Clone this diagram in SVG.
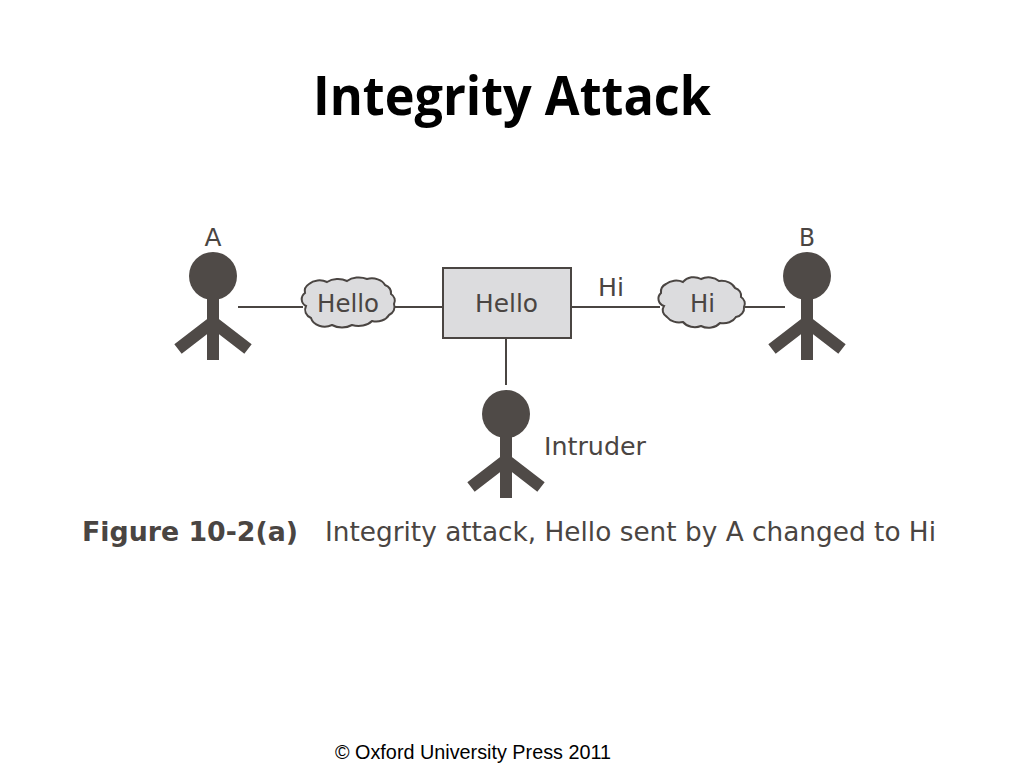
<svg xmlns="http://www.w3.org/2000/svg" width="1024" height="768" viewBox="0 0 1024 768">
<style>
.t{font-family:"DejaVu Sans","Liberation Sans",sans-serif;fill:#4a4542;font-size:25px}
.m{text-anchor:middle}
.w{stroke:#4a4542;fill:none;stroke-width:2}
.p{stroke:#4f4a47;stroke-width:12;fill:none}
.h{fill:#4f4a47}
.c{fill:#dcdcde;stroke:#4a4542;stroke-width:2}
</style>
<defs>
<g id="person">
<circle class="h" cx="0" cy="0" r="24"/>
<path class="p" d="M0 20V84M-35 73L0 46L35 73"/>
</g>
</defs>
<rect width="1024" height="768" fill="#fff"/>
<text id="title" x="512" y="115" text-anchor="middle" textLength="398" lengthAdjust="spacingAndGlyphs" style="font-family:'Open Sans','Noto Sans',sans-serif;font-weight:700;font-size:53px;fill:#000">Integrity Attack</text>
<g id="connectors">
<path class="w" d="M238 307H303M395 307H443M571 307H660M745 307H785M506 338V385"/>
</g>
<g id="node-a"><use href="#person" x="213" y="276"/><text class="t m" x="213" y="246" textLength="17" lengthAdjust="spacingAndGlyphs">A</text></g>
<g id="node-b"><use href="#person" x="807" y="276"/><text class="t m" x="807" y="246" textLength="16" lengthAdjust="spacingAndGlyphs">B</text></g>
<g id="node-intruder"><use href="#person" x="506" y="414"/><text class="t" x="544" y="455" textLength="102" lengthAdjust="spacingAndGlyphs">Intruder</text></g>
<g id="cloud-hello">
<path class="c" d="M305 293A11 9 0 0 1 309 284A14 11 0 0 1 327 282A16 11 0 0 1 347 281A16 11 0 0 1 367 279A14 10 0 0 1 385 285A10 9 0 0 1 391 294A9 8 0 0 1 394 304A10 9 0 0 1 389 315A14 11 0 0 1 372 321A16 11 0 0 1 352 325A16 11 0 0 1 332 325A14 11 0 0 1 311 318A10 9 0 0 1 306 306A9 8 0 0 1 305 293Z"/>
<text class="t" x="317" y="312" textLength="62" lengthAdjust="spacingAndGlyphs">Hello</text>
</g>
<g id="box">
<rect x="443" y="268" width="128" height="70" fill="#dcdcde" stroke="#4a4542" stroke-width="2"/>
<text class="t" x="475" y="312" textLength="63" lengthAdjust="spacingAndGlyphs">Hello</text>
</g>
<text id="label-hi" class="t" x="598" y="296" textLength="26" lengthAdjust="spacingAndGlyphs">Hi</text>
<g id="cloud-hi">
<path class="c" d="M661 293A10 9 0 0 1 666 284A14 11 0 0 1 683 282A13 11 0 0 1 701 279A14 11 0 0 1 719 281A14 10 0 0 1 735 288A9 8 0 0 1 741 297A9 8 0 0 1 744 307A10 9 0 0 1 736 317A14 11 0 0 1 720 323A14 11 0 0 1 701 326A14 11 0 0 1 683 322A14 11 0 0 1 667 317A9 8 0 0 1 664 306A9 8 0 0 1 661 293Z"/>
<text class="t" x="690" y="312" textLength="25" lengthAdjust="spacingAndGlyphs">Hi</text>
</g>
<text id="fig-no" x="82" y="541" textLength="216" lengthAdjust="spacingAndGlyphs" style="font-family:'DejaVu Sans',sans-serif;font-weight:700;font-size:27px;fill:#4a4542">Figure 10-2(a)</text>
<text id="caption" class="t" x="325" y="541" textLength="611" lengthAdjust="spacingAndGlyphs" style="font-size:27px">Integrity attack, Hello sent by A changed to Hi</text>
<text id="footer" x="335" y="759" textLength="276" lengthAdjust="spacingAndGlyphs" style="font-family:'Liberation Sans',sans-serif;font-size:20px;fill:#000">© Oxford University Press 2011</text>
</svg>
